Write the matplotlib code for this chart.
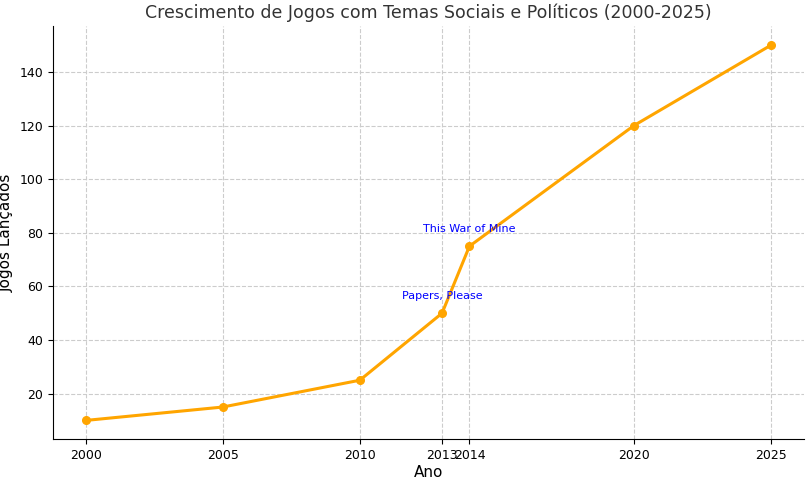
import matplotlib
matplotlib.use("Agg")
import matplotlib.pyplot as plt

years = [2000, 2005, 2010, 2013, 2014, 2020, 2025]
games = [10, 15, 25, 50, 75, 120, 150]
annotations = [("Papers, Please", 2013, 50), ("This War of Mine", 2014, 75)]

fig, ax = plt.subplots(figsize=(8.12, 4.8), dpi=100)
ax.plot(years, games, color="#FFA500", marker="o", linewidth=2.2, markersize=5.5)
for text, x, y in annotations:
    ax.annotate(text, (x, y), xytext=(0, 10), textcoords="offset points",
                ha="center", color="blue", fontsize=8)
ax.set_xticks(years)
ax.tick_params(labelsize=9)
ax.set_xlim(1998.8, 2026.2)
ax.set_ylim(3, 157)
ax.set_title("Crescimento de Jogos com Temas Sociais e Políticos (2000-2025)", fontsize=12.5, color="#333333")
ax.set_xlabel("Ano", fontsize=11, labelpad=2)
ax.set_ylabel("Jogos Lançados", fontsize=11, labelpad=4)
ax.grid(True, linestyle="--", color="#cccccc", linewidth=0.8)
for s in ["top", "right"]:
    ax.spines[s].set_visible(False)
fig.subplots_adjust(left=0.065, right=0.99, top=0.945, bottom=0.085)
fig.savefig("out.png")
